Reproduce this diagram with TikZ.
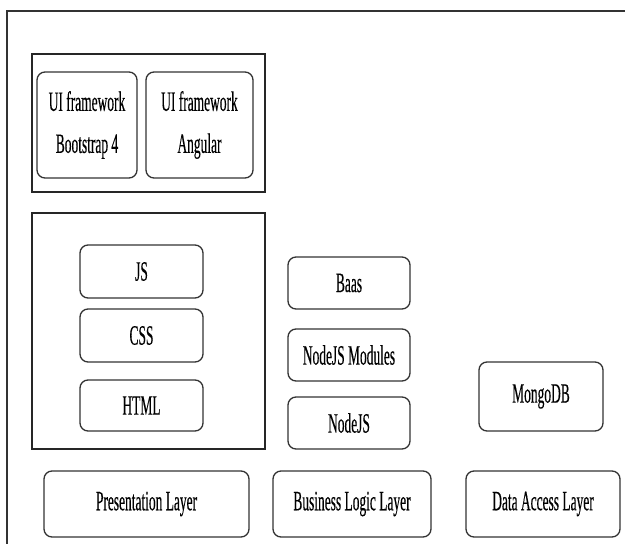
\documentclass[tikz,border=0pt]{standalone}
\usepackage{fontspec}
\setmainfont[FakeStretch=0.48, FakeBold=0.3]{Liberation Serif}
\usetikzlibrary{positioning}

\tikzset{
	layerbox/.style={draw=black!80, line width=1.3pt, rounded corners=8pt, align=center,
		font=\fontsize{28}{42}\selectfont, inner sep=0pt},
	groupbox/.style={draw=black!85, line width=1.3pt, inner sep=0pt}
}

\begin{document}
\begin{tikzpicture}[x=1pt, y=-1pt]
                            \useasboundingbox (0,0) rectangle (625,544);
                            \coordinate (framebl) at (7,544);
                            \coordinate (frametl) at (7,11);
                            \coordinate (frametr) at (625,11);
                            \draw [black!80, line width=1.3pt] (framebl) -- (frametl) -- (frametr);
                            % presentation side
                            \node (uigroup) [groupbox, minimum width=233pt, minimum height=138pt] at (148.5,123) {};
                            \node (bootstrap) [layerbox, minimum width=100pt, minimum height=106pt] at (87,125) {UI framework\\Bootstrap 4};
                            \node (angular) [layerbox, minimum width=107pt, minimum height=106pt] at (199.5,125) {UI framework\\Angular};
                            \node (webgroup) [groupbox, minimum width=233pt, minimum height=236pt] at (148.5,331) {};
                            \node (js) [layerbox, minimum width=123pt, minimum height=53pt] at (141.5,271.5) {JS};
                            \node (css) [layerbox, minimum width=123pt, minimum height=53pt] at (141.5,335.5) {CSS};
                            \node (html) [layerbox, minimum width=123pt, minimum height=51pt] at (141.5,405.5) {HTML};
                            % business side
                            \node (baas) [layerbox, minimum width=122pt, minimum height=52pt] at (349,283) {Baas};
                            \node (modules) [layerbox, minimum width=122pt, minimum height=52pt] at (349,355) {NodeJS Modules};
                            \node (nodejs) [layerbox, minimum width=122pt, minimum height=52pt] at (349,423) {NodeJS};
                            % data side
                            \node (mongodb) [layerbox, minimum width=124pt, minimum height=69pt] at (541,396.5) {MongoDB};
                            % layers
                            \node (presentation) [layerbox, minimum width=205pt, minimum height=66pt] at (146.5,504) {Presentation Layer};
                            \node (business) [layerbox, minimum width=158pt, minimum height=66pt] at (352,504) {Business Logic Layer};
                            \node (dataaccess) [layerbox, minimum width=154pt, minimum height=66pt] at (543,504) {Data Access Layer};
                        \end{tikzpicture}
\end{document}
